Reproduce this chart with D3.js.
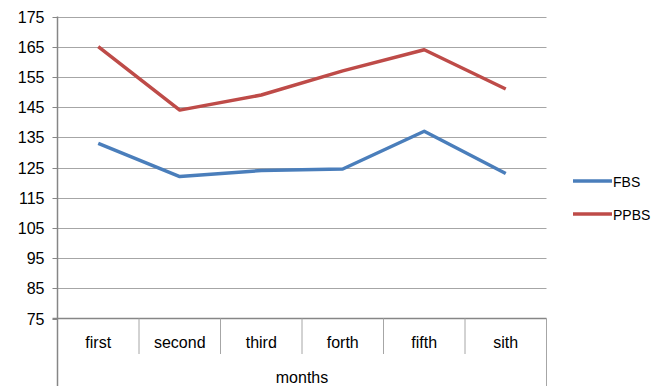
<!DOCTYPE html>
<html>
<head>
<meta charset="utf-8">
<script src="https://cdn.jsdelivr.net/npm/d3@7"></script>
<style>
  html, body { margin: 0; padding: 0; background: #fff; }
  svg text { font-family: "Liberation Sans", Arial, sans-serif; fill: #000; }
</style>
</head>
<body>
<svg id="chart" width="651" height="386"></svg>
<script>
// Monthly blood sugar readings
const months = ["first", "second", "third", "forth", "fifth", "sith"];
const fbs = [133, 122, 124, 124.5, 137, 123];
const ppbs = [165, 144, 149, 157, 164, 151];
const yTicks = [75, 85, 95, 105, 115, 125, 135, 145, 155, 165, 175];
const seriesNames = ["FBS", "PPBS"];
const seriesColors = ["#4a7ebb", "#be4b48"];

const svg = d3.select("#chart");
const plotLeft = 57.5, plotRight = 546.5, plotTop = 16.5, plotBottom = 318.5;

const x = d3.scaleBand().domain(months).range([plotLeft, plotRight]);
const y = d3.scaleLinear().domain([75, 175]).range([plotBottom, plotTop]);

// horizontal gridlines
svg.append("g")
  .selectAll("line")
  .data(yTicks.slice(1))
  .join("line")
  .attr("x1", plotLeft).attr("x2", plotRight)
  .attr("y1", d => Math.round(y(d)) + 0.5).attr("y2", d => Math.round(y(d)) + 0.5)
  .attr("stroke", "#a6a6a6").attr("stroke-width", 1);

// y axis
const yAxis = svg.append("g")
  .attr("transform", `translate(${plotLeft},0)`)
  .call(d3.axisLeft(y).tickValues(yTicks).tickSize(5).tickPadding(8));
yAxis.select(".domain").remove();
yAxis.selectAll(".tick line").attr("stroke", "#868686");
yAxis.selectAll(".tick text").style("font-size", "16px").style("font-family", "Liberation Sans, Arial, sans-serif");
yAxis.selectAll(".tick").attr("transform", d => `translate(0,${Math.round(y(d)) + 0.5})`);

// left axis line running down past the category labels
svg.append("line")
  .attr("x1", plotLeft).attr("x2", plotLeft).attr("y1", plotTop).attr("y2", 386)
  .attr("stroke", "#868686").attr("stroke-width", 1.5);
// right outer border of the category area
svg.append("line")
  .attr("x1", plotRight).attr("x2", plotRight).attr("y1", plotBottom).attr("y2", 386)
  .attr("stroke", "#a6a6a6").attr("stroke-width", 1);
// bottom axis line
svg.append("line")
  .attr("x1", plotLeft - 5).attr("x2", plotRight).attr("y1", plotBottom).attr("y2", plotBottom)
  .attr("stroke", "#868686").attr("stroke-width", 1.5);

// category separators
svg.append("g")
  .selectAll("line")
  .data(months.slice(1))
  .join("line")
  .attr("x1", d => x(d)).attr("x2", d => x(d))
  .attr("y1", plotBottom).attr("y2", 354)
  .attr("stroke", "#a6a6a6").attr("stroke-width", 1);

// category labels
svg.append("g")
  .selectAll("text")
  .data(months)
  .join("text")
  .attr("x", d => x(d) + x.bandwidth() / 2)
  .attr("y", 348)
  .attr("text-anchor", "middle")
  .style("font-size", "16px")
  .text(d => d);

svg.append("text")
  .attr("x", (plotLeft + plotRight) / 2)
  .attr("y", 383)
  .attr("text-anchor", "middle")
  .style("font-size", "16px")
  .text("months");

// series lines
const line = d3.line()
  .x((d, i) => x(months[i]) + x.bandwidth() / 2)
  .y(d => y(d));

[fbs, ppbs].forEach((vals, i) => {
  svg.append("path")
    .datum(vals)
    .attr("d", line)
    .attr("fill", "none")
    .attr("stroke", seriesColors[i])
    .attr("stroke-width", 3.5)
    .attr("stroke-linejoin", "round");
});

// legend
const legend = svg.append("g");
seriesNames.forEach((name, i) => {
  const ly = 181 + i * 33;
  legend.append("line")
    .attr("x1", 573).attr("x2", 612).attr("y1", ly).attr("y2", ly)
    .attr("stroke", seriesColors[i]).attr("stroke-width", 3.5);
  legend.append("text")
    .attr("x", 613).attr("y", ly + 5.5)
    .style("font-size", "14px")
    .text(name);
});
</script>
</body>
</html>
